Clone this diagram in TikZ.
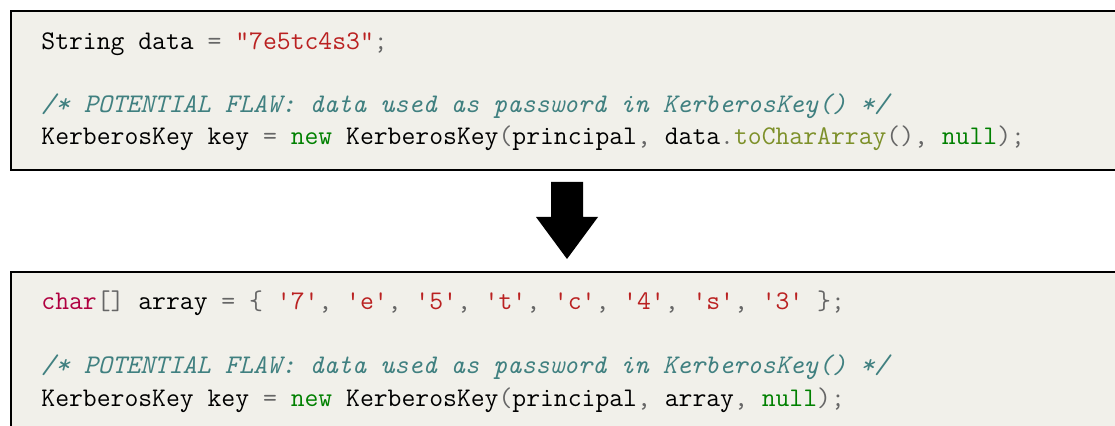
\documentclass[tikz,border=0pt]{standalone}
\usepackage{fontspec}
\setmonofont{Latin Modern Mono}

% code highlighting colours
\definecolor{codebg}{HTML}{F1F0EA}
\definecolor{codeop}{HTML}{666666}
\definecolor{codestr}{HTML}{BA2121}
\definecolor{codekw}{HTML}{008000}
\definecolor{codetype}{HTML}{B00040}
\definecolor{codeattr}{HTML}{7D9029}
\definecolor{codecom}{HTML}{408080}

\newcommand\tkOp[1]{\textcolor{codeop}{#1}}
\newcommand\tkStr[1]{\textcolor{codestr}{#1}}
\newcommand\tkKw[1]{\textcolor{codekw}{#1}}
\newcommand\tkTy[1]{\textcolor{codetype}{#1}}
\newcommand\tkAt[1]{\textcolor{codeattr}{#1}}
\newcommand\tkCm[1]{\textcolor{codecom}{\itshape #1}}

\tikzset{
  x=0.5pt, y=-0.5pt,
  codebox/.style={fill=codebg, draw=black, line width=0.65pt},
  codeline/.style={anchor=base west, inner sep=0pt, font=\ttfamily\fontsize{13.45pt}{16pt}\selectfont\frenchspacing},
  blockarrow/.style={fill=black, draw=none},
}

\begin{document}
\begin{tikzpicture}
\path[use as bounding box, clip] (0,0) rectangle (1115,426);

% original snippet
\draw[codebox] (11,11) rectangle (1130,170);
\node[codeline] (a1) at (41,50) {String data \tkOp{=} \tkStr{"7e5tc4s3"}\tkOp{;}};
\node[codeline] (a2) at (41,113) {\tkCm{/* POTENTIAL FLAW: data used as password in KerberosKey() */}};
\node[codeline] (a3) at (41,145) {KerberosKey key \tkOp{=} \tkKw{new} KerberosKey\tkOp{(}principal\tkOp{,} data\tkOp{.}\tkAt{toCharArray}\tkOp{(),} \tkKw{null}\tkOp{);}};

% transformation arrow
\fill[blockarrow] (551,182) -- (583,182) -- (583,217) -- (598,217) -- (567,259)
  -- (536,217) -- (551,217) -- cycle;

% rewritten snippet
\draw[codebox] (11,272) rectangle (1130,440);
\node[codeline] (b1) at (41,310) {\tkTy{char}\tkOp{[]} array \tkOp{=} \tkOp{\{} \tkStr{'7'}\tkOp{,} \tkStr{'e'}\tkOp{,} \tkStr{'5'}\tkOp{,} \tkStr{'t'}\tkOp{,} \tkStr{'c'}\tkOp{,} \tkStr{'4'}\tkOp{,} \tkStr{'s'}\tkOp{,} \tkStr{'3'} \tkOp{\};}};
\node[codeline] (b2) at (41,374) {\tkCm{/* POTENTIAL FLAW: data used as password in KerberosKey() */}};
\node[codeline] (b3) at (41,407) {KerberosKey key \tkOp{=} \tkKw{new} KerberosKey\tkOp{(}principal\tkOp{,} array\tkOp{,} \tkKw{null}\tkOp{);}};
\end{tikzpicture}
\end{document}
